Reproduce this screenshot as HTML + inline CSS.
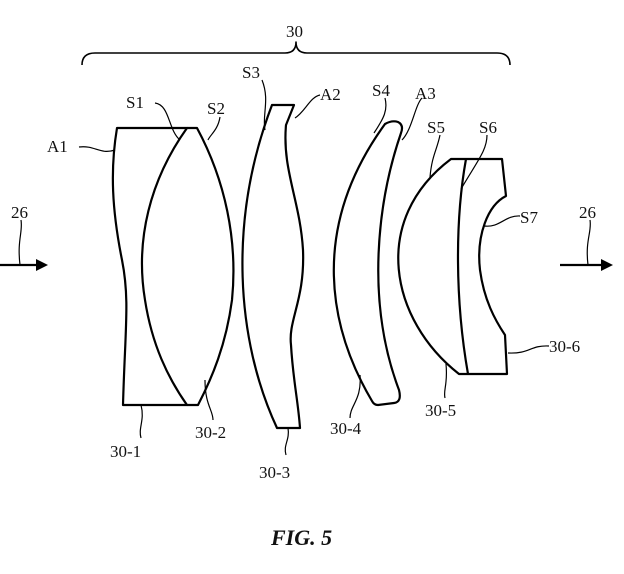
<!DOCTYPE html>
<html><head><meta charset="utf-8"><style>
body{margin:0;background:#fff}
svg{display:block}
text{font-family:"Liberation Serif",serif;font-size:17px;fill:#111}
</style></head><body>
<svg width="624" height="574" viewBox="0 0 624 574" xmlns="http://www.w3.org/2000/svg">
<g fill="none" stroke="#000" stroke-width="2.2" stroke-linejoin="round">
<path d="M82,65 Q82,53 95,53 L285,53 Q296,53 296,42 Q296,53 307,53 L497,53 Q510,53 510,65" stroke-width="1.6"/>
<path d="M117,128 L187,128 C150,180 135,240 145,300 C152,345 168,378 187,405 L123,405 C125,330 130,300 122,260 C112,210 110,170 117,128 Z"/>
<path d="M187,128 L197,128 C225,180 238,240 232,300 C226,345 212,378 198,405 L187,405"/>
<path d="M272,105 L294,105 L286,125 C282,170 300,200 303,250 C305,300 288,320 291,345 C293,380 298,400 300,428 L277,428 C236,340 228,220 272,105 Z"/>
<path d="M385,124 Q392,120 398,122 Q404,125 401,133 C378,200 365,300 399,390 Q402,402 394,403 L378,405 Q374,405 372,401 C330,330 308,230 385,124 Z"/>
<path d="M451,159 L502,159 L506,196 C488,205 476,235 480,270 C484,300 495,320 505,335 L507,374 L459,374 C390,320 370,220 451,159 Z"/>
<path d="M466,159 C455,220 455,300 468,374"/>
</g>
<g fill="none" stroke="#000" stroke-width="1.2">
<path d="M79,147 C95,145 100,155 115,150"/>
<path d="M155,103 C170,105 168,130 180,140"/>
<path d="M220,117 C218,130 210,135 208,140"/>
<path d="M262,80 C270,100 262,115 265,130"/>
<path d="M320,95 C310,97 305,112 295,118"/>
<path d="M385,98 C388,110 384,118 374,133"/>
<path d="M422,98 C415,105 412,130 402,140"/>
<path d="M440,135 C437,150 432,155 430,177"/>
<path d="M487,135 C487,150 478,160 461,189"/>
<path d="M520,216 C505,215 500,228 484,226"/>
<path d="M141,438 C138,428 145,420 141,405"/>
<path d="M213,420 C213,410 205,405 205,380"/>
<path d="M286,455 C283,445 290,440 288,428"/>
<path d="M350,418 C350,405 362,400 360,375"/>
<path d="M445,398 C443,390 448,385 446,364"/>
<path d="M549,346 C530,345 530,354 508,353"/>
<path d="M21,220 C23,232 17,240 20,265"/>
<path d="M590,220 C592,232 585,240 588,265"/>
</g>
<g stroke="#000" stroke-width="2.2">
<line x1="0" y1="265" x2="38" y2="265"/>
<line x1="560" y1="265" x2="603" y2="265"/>
</g>
<polygon points="48,265 36,259 36,271" fill="#000"/>
<polygon points="613,265 601,259 601,271" fill="#000"/>
<text x="286" y="37">30</text>
<text x="47" y="152">A1</text>
<text x="126" y="108">S1</text>
<text x="207" y="114">S2</text>
<text x="242" y="78">S3</text>
<text x="320" y="100">A2</text>
<text x="372" y="96">S4</text>
<text x="415" y="99">A3</text>
<text x="427" y="133">S5</text>
<text x="479" y="133">S6</text>
<text x="520" y="223">S7</text>
<text x="110" y="457">30-1</text>
<text x="195" y="438">30-2</text>
<text x="259" y="478">30-3</text>
<text x="330" y="434">30-4</text>
<text x="425" y="416">30-5</text>
<text x="549" y="352">30-6</text>
<text x="11" y="218">26</text>
<text x="579" y="218">26</text>
<text x="271" y="545" style="font-size:22px;font-weight:bold;font-style:italic">FIG. 5</text>
</svg>
</body></html>
